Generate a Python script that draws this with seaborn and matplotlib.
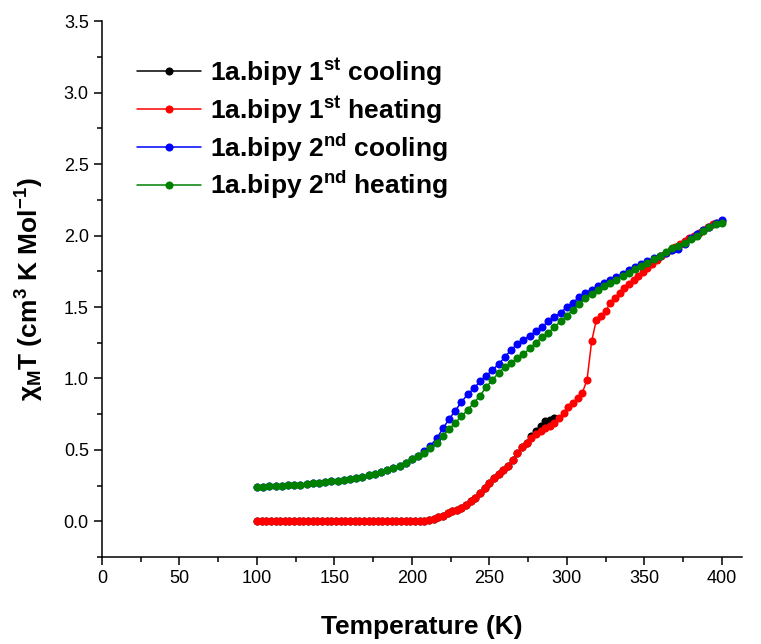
import numpy as np
import pandas as pd
import matplotlib
matplotlib.use('Agg')
import matplotlib.pyplot as plt
import seaborn as sns

# temperature grids (K)
temp_1st = list(range(100, 401, 3))
temp_1st_cool = list(range(100, 293, 3))
temp_2nd = list(range(100, 401, 4))

# chiMT values
heat_1st = [0.0] * 36 + [
    0.004, 0.01, 0.018, 0.028, 0.04, 0.055, 0.07, 0.08, 0.095, 0.115,
    0.14, 0.165, 0.195, 0.23, 0.265, 0.30, 0.33, 0.36, 0.39, 0.43,
    0.48, 0.52, 0.55, 0.58, 0.61, 0.63, 0.65, 0.67, 0.69, 0.72,
    0.76, 0.80, 0.83, 0.86, 0.90, 0.99, 1.26, 1.41, 1.44, 1.47,
    1.53, 1.56, 1.60, 1.63, 1.66, 1.69, 1.72, 1.745, 1.77, 1.80,
    1.83, 1.86, 1.88, 1.90, 1.92, 1.94, 1.96, 1.98, 2.00, 2.02,
    2.04, 2.06, 2.08, 2.09, 2.10]
cool_1st = [0.0] * 36 + [
    0.004, 0.01, 0.018, 0.028, 0.04, 0.055, 0.07, 0.08, 0.095, 0.115,
    0.14, 0.165, 0.195, 0.23, 0.265, 0.30, 0.33, 0.36, 0.39, 0.43,
    0.48, 0.52, 0.55, 0.60, 0.63, 0.67, 0.70, 0.71, 0.72]
cool_2nd = [
    0.240, 0.242, 0.244, 0.246, 0.248, 0.251, 0.254, 0.257, 0.261, 0.265,
    0.269, 0.274, 0.279, 0.284, 0.290, 0.297, 0.304, 0.312, 0.321, 0.332,
    0.344, 0.357, 0.372, 0.389, 0.410, 0.433, 0.460, 0.492, 0.530, 0.580,
    0.650, 0.715, 0.775, 0.835, 0.89, 0.93, 0.98, 1.02, 1.06, 1.10,
    1.15, 1.20, 1.24, 1.27, 1.30, 1.33, 1.36, 1.40, 1.43, 1.46,
    1.50, 1.53, 1.57, 1.60, 1.62, 1.645, 1.665, 1.69, 1.71, 1.73,
    1.76, 1.78, 1.80, 1.82, 1.84, 1.86, 1.88, 1.90, 1.905, 1.94,
    1.98, 2.01, 2.04, 2.06, 2.09, 2.11]
heat_2nd = [
    0.240, 0.242, 0.244, 0.246, 0.248, 0.251, 0.254, 0.257, 0.261, 0.265,
    0.269, 0.274, 0.279, 0.284, 0.290, 0.297, 0.304, 0.312, 0.321, 0.332,
    0.344, 0.357, 0.372, 0.389, 0.410, 0.433, 0.455, 0.48, 0.51, 0.55,
    0.60, 0.645, 0.69, 0.735, 0.78, 0.83, 0.88, 0.94, 0.99, 1.04,
    1.08, 1.11, 1.14, 1.17, 1.21, 1.25, 1.29, 1.32, 1.36, 1.40,
    1.44, 1.48, 1.52, 1.56, 1.59, 1.62, 1.65, 1.67, 1.69, 1.715,
    1.74, 1.765, 1.79, 1.81, 1.835, 1.86, 1.885, 1.91, 1.93, 1.95,
    1.975, 2.00, 2.03, 2.06, 2.08, 2.09]

labels = ['1a.bipy 1$^{\\mathbf{st}}$ cooling',
          '1a.bipy 1$^{\\mathbf{st}}$ heating',
          '1a.bipy 2$^{\\mathbf{nd}}$ cooling',
          '1a.bipy 2$^{\\mathbf{nd}}$ heating']
colors = ['#000000', '#ff0000', '#0000ff', '#008000']

sns.set_style('ticks', {'axes.edgecolor': 'black', 'text.color': 'black',
                        'xtick.color': 'black', 'ytick.color': 'black',
                        'axes.labelcolor': 'black'})
plt.rcParams['font.family'] = ['Liberation Sans', 'DejaVu Sans']
plt.rcParams['mathtext.fontset'] = 'custom'
plt.rcParams['mathtext.rm'] = 'Liberation Sans'
plt.rcParams['mathtext.bf'] = 'Liberation Sans:bold'
plt.rcParams['mathtext.it'] = 'Liberation Sans:italic'

fig = plt.figure(figsize=(7.61, 6.44), dpi=100)
ax = fig.add_axes([0.134, 0.135, 0.841, 0.832])

series = [(temp_1st_cool, cool_1st), (temp_1st, heat_1st),
          (temp_2nd, cool_2nd), (temp_2nd, heat_2nd)]
for (t, v), lab, c in zip(series, labels, colors):
    sns.lineplot(x=t, y=v, ax=ax, color=c, label=lab, marker='o',
                 markersize=5.8, markeredgewidth=0, linewidth=1.1,
                 estimator=None, sort=False)

ax.set_xlim(0, 413)
ax.set_ylim(-0.25, 3.5)
ax.set_xticks(np.arange(0, 401, 50))
ax.set_xticks(np.arange(25, 401, 50), minor=True)
ax.set_yticks(np.arange(0, 3.51, 0.5))
ax.set_yticks(np.arange(-0.25, 3.5, 0.5), minor=True)
ax.yaxis.set_major_formatter(matplotlib.ticker.FormatStrFormatter('%.1f'))
ax.tick_params(which='major', length=6, width=1.1, direction='out', labelsize=13)
ax.tick_params(which='minor', length=3.5, width=1.1, direction='out')
sns.despine(ax=ax)
for s in ['left', 'bottom']:
    ax.spines[s].set_linewidth(1.1)

ax.set_xlabel('Temperature (K)', fontsize=19, fontweight='bold', labelpad=20)
ax.set_ylabel('χ$_{\\mathbf{M}}$T (cm$^{\\mathbf{3}}$ K Mol$^{\\mathbf{-1}}$)',
              fontsize=19, fontweight='bold', labelpad=13)

ax.legend(loc='upper left', bbox_to_anchor=(0.055, 0.935), frameon=False,
          prop={'size': 19, 'weight': 'bold'}, handlelength=2.4,
          handletextpad=0.35, labelspacing=0.22, borderpad=0,
          borderaxespad=0, numpoints=1)

fig.savefig('out.png', dpi=100)
